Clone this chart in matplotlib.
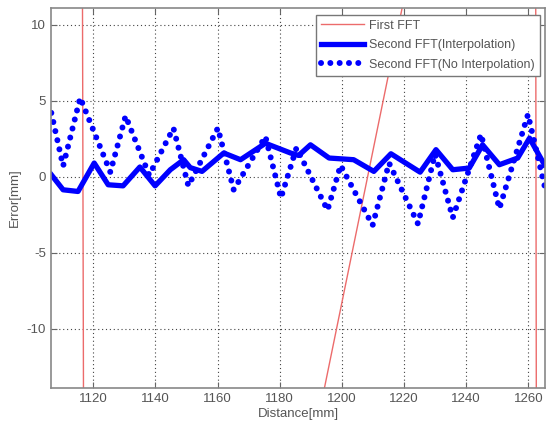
import matplotlib
matplotlib.use('Agg')
import matplotlib.pyplot as plt
import numpy as np

plt.rcParams['font.family'] = ['Liberation Sans', 'DejaVu Sans']
plt.rcParams['axes.unicode_minus'] = False

# First FFT error (coarse estimate, sawtooth with jumps)
first_x = [1116.3, 1117.8, 1262.1, 1262.7]
first_y = [30.0, -90.5, 53.8, -30.0]

# Second FFT with interpolation
interp_x = [1106.5, 1110.3, 1115.1, 1120.3, 1124.8, 1129.6, 1135.0, 1139.9,
            1144.8, 1149.1, 1151.2, 1155.0, 1162.0, 1167.4, 1175.4, 1183.5,
            1186.1, 1189.9, 1195.9, 1203.8, 1210.3, 1215.8, 1225.2, 1230.3,
            1235.7, 1241.0, 1245.3, 1250.7, 1256.6, 1260.4, 1265.2]
interp_y = [0.13, -0.86, -0.97, 0.9, -0.53, -0.6, 0.64, -0.6,
            0.46, 1.12, 0.6, 0.35, 1.56, 1.12, 2.2, 1.56,
            1.4, 2.1, 1.23, 1.12, 0.35, 1.51, 0.3, 1.78,
            0.46, 0.57, 2.1, 0.79, 1.23, 2.54, 0.79]

# Second FFT without interpolation
noint_x = [1106.5, 1110.3, 1115.8, 1125.5, 1130.4, 1138.0, 1145.8, 1150.6,
           1160.1, 1165.2, 1175.4, 1180.4, 1185.4, 1195.4, 1199.6, 1209.9,
           1215.2, 1224.5, 1230.0, 1235.7, 1244.8, 1250.7, 1259.9, 1265.4]
noint_y = [4.2, 0.7, 5.2, 0.3, 4.0, 0.1, 3.2, -0.6,
           3.2, -0.86, 2.65, -1.4, 1.9, -2.2, 0.75, -3.2,
           0.9, -3.1, 1.5, -2.7, 2.8, -2.1, 4.1, -0.74]

xticks = [1120, 1140, 1160, 1180, 1200, 1220, 1240, 1260]
yticks = [-10, -5, 0, 5, 10]

gray = '#666666'

fig = plt.figure(figsize=(5.52, 4.22), dpi=100)
ax = fig.add_axes([0.0924, 0.0806, 0.895, 0.9004])

ax.plot(first_x, first_y, color='#ec6b6b', lw=1.0, label='First FFT')
ax.plot(interp_x, interp_y, color='#0000ff', lw=3.8,
        solid_joinstyle='round', label='Second FFT(Interpolation)')
ax.plot(noint_x, noint_y, color='#0000ff', lw=4.3,
        linestyle=(0, (0.01, 1.55)), dash_capstyle='round',
        label='Second FFT(No Interpolation)')

ax.set_xlim(1106.4, 1265.4)
ax.set_ylim(-13.9, 11.1)
ax.set_xticks(xticks)
ax.set_yticks(yticks)
ax.grid(True, color='#444444', linestyle=(0, (1, 2.5)), lw=0.8)
ax.tick_params(direction='in', top=True, right=True, colors=gray,
               labelsize=9.5, length=4, labelcolor='#555555')
for s in ax.spines.values():
    s.set_color('#888888')
    s.set_linewidth(1.2)

ax.set_xlabel('Distance[mm]', fontsize=9.5, color='#555555', labelpad=2)
ax.set_ylabel('Error[mm]', fontsize=9.5, color='#555555', labelpad=4)

leg = ax.legend(loc='upper right', bbox_to_anchor=(0.99, 0.982),
                borderaxespad=0, fontsize=9, handlelength=3.5,
                handletextpad=0.4, labelspacing=0.6, fancybox=False,
                framealpha=1, edgecolor='#777777')
for t in leg.get_texts():
    t.set_color('#555555')

fig.savefig('out.png', dpi=100)
